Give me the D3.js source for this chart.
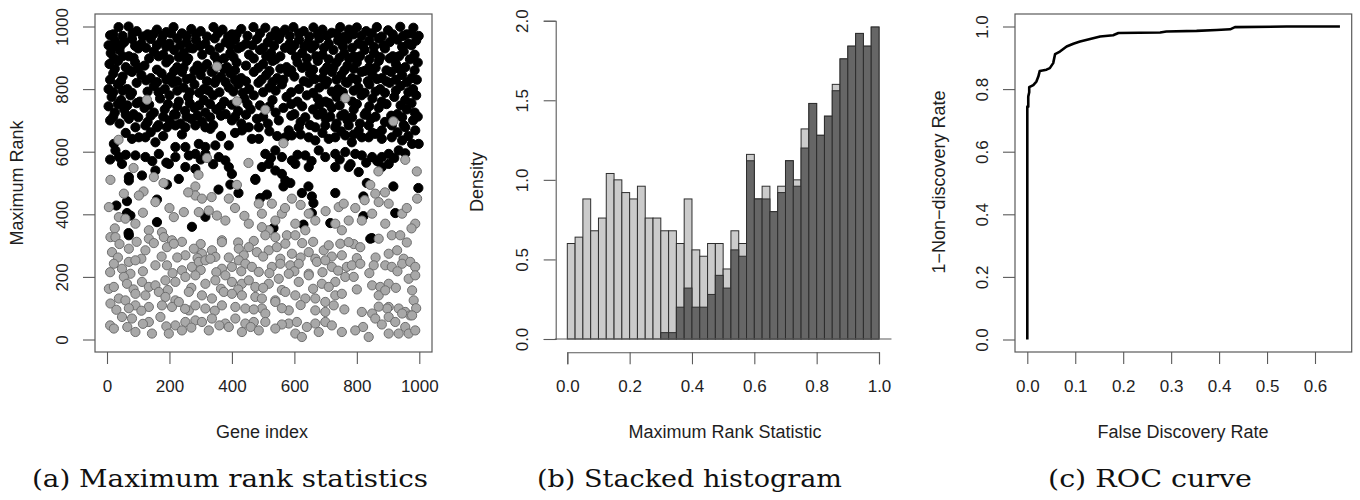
<!DOCTYPE html>
<html>
<head>
<meta charset="utf-8">
<script src="https://cdn.jsdelivr.net/npm/d3@7"></script>
<style>
  body { margin: 0; background: #fff; }
  svg { display: block; }
</style>
</head>
<body>
<script>
const WIDTH = 1360;
const HEIGHT = 500;
const SANS = "'Liberation Sans', Arial, sans-serif";
const SERIF = "'DejaVu Serif', serif";
const INK = "#1e1e1e";
const FRAME = "#5a5a5a";
const TICK = 12;

// ---- (a) maximum rank statistics ----
const geneTicks = [0, 200, 400, 600, 800, 1000];
const rankTicks = [0, 200, 400, 600, 800, 1000];

// [gene index, maximum rank] - differentially expressed genes (black)
const signalGenes = [
  [10,972],[37,998],[69,1000],[95,985],[130,975],[160,990],[190,982],[213,998],[240,978],[270,992],[300,985],[341,998],[370,990],[400,975],[430,992],[469,998],[507,996],[540,985],[570,990],[597,998],[630,985],[661,997],[690,990],[720,980],[747,998],[775,990],[800,997],[830,985],[864,998],[900,988],[939,999],[960,975],[981,996],
  [20,975],[50,970],[82,978],[115,968],[148,975],[178,970],[205,978],[255,970],[285,975],[320,968],[355,978],[388,968],[415,975],[450,970],[490,978],[525,968],[555,975],[585,970],[615,978],[648,968],[675,975],[705,970],[735,978],[760,968],[790,975],[815,970],[848,978],[880,968],[915,975],[948,970],[975,978],[998,970],
  [5,940],[25,955],[55,950],[80,960],[110,945],[140,960],[175,955],[200,945],[225,962],[255,950],[285,958],[315,945],[345,962],[380,950],[410,958],[445,945],[480,960],[515,950],[550,960],[585,945],[615,958],[645,950],[680,962],[710,945],[740,955],[770,960],[805,945],[840,955],[870,962],[905,950],[930,958],[965,945],[990,955],
  [18,935],[45,940],[90,938],[125,932],[160,940],[190,935],[235,940],[265,932],[298,938],[360,932],[395,940],[430,935],[465,940],[500,932],[535,938],[570,932],[600,940],[632,935],[665,940],[695,932],[755,938],[785,932],[820,940],[855,935],[885,940],[945,935],[975,940],
  [12,915],[40,925],[70,905],[100,930],[150,920],[180,910],[215,925],[245,915],[275,930],[305,910],[330,925],[395,915],[420,930],[455,910],[490,925],[525,915],[555,905],[590,925],[625,915],[655,930],[690,910],[725,925],[760,915],[790,905],[825,925],[855,915],[890,930],[915,905],[950,920],[985,910],
  [22,898],[50,905],[85,900],[135,898],[165,905],[200,895],[230,902],[260,898],[345,905],[375,898],[405,902],[470,898],[510,905],[540,895],[605,902],[640,898],[670,905],[710,895],[745,900],[775,898],[810,905],[840,895],[875,902],[905,898],[935,905],[970,895],
  [8,880],[35,890],[60,870],[90,885],[120,875],[190,885],[225,870],[255,890],[290,875],[320,880],[355,890],[385,870],[415,885],[445,875],[500,880],[530,890],[575,870],[610,885],[640,875],[675,890],[705,870],[735,885],[770,875],[800,885],[840,870],[870,890],[925,880],[955,870],[995,885],
  [25,865],[70,860],[100,868],[160,862],[215,858],[245,868],[280,860],[305,865],[340,858],[375,865],[410,860],[485,868],[520,858],[555,865],[590,860],[625,868],[660,862],[695,858],[725,868],[760,860],[790,865],[825,858],[860,868],[895,860],[935,865],[985,860],
  [20,850],[50,840],[80,855],[110,845],[140,835],[175,850],[205,840],[240,855],[270,835],[300,845],[335,855],[365,840],[395,850],[430,835],[470,855],[510,845],[545,835],[580,855],[600,840],[650,850],[690,835],[720,855],[750,845],[785,835],[815,855],[850,845],[880,835],[910,855],[945,845],[975,835],
  [10,830],[45,825],[125,828],[160,822],[190,830],[225,825],[255,832],[320,825],[350,830],[380,822],[410,830],[445,825],[495,830],[530,822],[565,830],[630,825],[665,832],[705,825],[735,830],[765,822],[800,830],[835,825],[865,832],[895,825],[925,830],[960,822],[992,830],
  [5,800],[35,815],[65,800],[95,820],[150,810],[185,800],[210,820],[245,805],[280,815],[310,800],[345,820],[390,805],[420,815],[455,800],[485,820],[520,805],[560,815],[615,800],[645,820],[680,805],[700,815],[740,800],[770,820],[805,805],[840,815],[875,800],[905,820],[940,810],[980,800],
  [20,790],[50,795],[80,788],[130,792],[165,790],[225,795],[265,790],[295,788],[325,795],[360,790],[405,792],[435,788],[500,790],[540,795],[590,790],[660,788],[720,792],[755,790],[790,795],[825,788],[860,792],[890,788],[925,795],[965,790],
  [15,775],[45,765],[75,780],[105,760],[170,770],[200,780],[230,760],[260,775],[310,765],[340,780],[375,760],[440,770],[470,780],[530,765],[575,775],[610,760],[640,780],[675,770],[700,760],[735,775],[785,760],[815,780],[850,770],[880,760],[920,775],[955,765],[990,780],
  [5,745],[35,752],[65,748],[95,755],[135,750],[195,752],[225,745],[265,755],[295,748],[330,752],[365,745],[400,750],[450,752],[490,748],[520,745],[590,752],[625,745],[680,750],[710,755],[745,748],[800,752],[840,745],[895,752],[940,748],[975,755],
  [25,725],[55,735],[85,720],[120,740],[150,725],[185,735],[215,720],[250,730],[280,740],[315,725],[350,735],[380,720],[420,730],[460,735],[540,725],[565,740],[600,720],[660,735],[690,725],[720,740],[760,720],[790,735],[830,725],[870,740],[930,720],[960,735],[985,725],
  [20,712],[60,718],[100,710],[140,715],[180,712],[220,718],[255,712],[290,715],[330,710],[365,715],[410,712],[445,718],[500,712],[590,715],[635,710],[675,718],[715,712],[750,715],[785,710],[825,718],[860,712],[910,715],[945,710],[995,712],
  [10,700],[40,690],[70,705],[130,695],[165,685],[200,700],[235,690],[270,705],[305,695],[340,685],[400,700],[430,690],[480,705],[515,690],[550,700],[620,695],[650,685],[700,705],[735,690],[770,700],[810,690],[845,705],[890,695],[950,685],[980,700],
  [91,678],[123,684],[160,678],[192,678],[219,684],[251,678],[283,684],[315,678],[331,673],[432,668],[454,678],[486,678],[582,668],[614,678],[667,678],[699,684],[731,678],[774,684],[806,668],[838,684],[880,668],[912,684],[955,678],[987,668],
  [60,660],[140,662],[180,650],[240,655],[365,650],[410,660],[520,665],[545,650],[620,655],[690,660],[750,665],[790,655],[850,660],[930,662],[965,650],
  [22,625],[80,641],[102,646],[123,646],[155,630],[219,615],[251,615],[294,625],[315,615],[347,620],[390,620],[464,641],[486,641],[571,646],[592,652],[646,646],[667,636],[710,641],[731,646],[763,652],[784,630],[816,646],[838,646],[859,657],[880,641],[912,646],[945,636],[977,625],[998,625],
  [27,604],[38,583],[91,588],[123,583],[166,593],[219,583],[262,588],[283,593],[315,593],[358,583],[379,572],[507,593],[539,604],[560,583],[592,572],[635,588],[678,604],[699,583],[731,593],[763,599],[795,593],[816,588],[849,583],[880,583],[902,593],[934,604],
  [10,575],[60,590],[145,570],[190,565],[300,575],[340,560],[525,580],[610,590],[655,570],[745,575],[780,560],[830,565],[865,570],[920,580],[955,595],
  [48,561],[70,519],[112,524],[155,540],[198,561],[251,551],[283,545],[390,551],[400,529],[496,551],[518,561],[539,540],[560,529],[603,561],[646,551],[731,551],[774,551],[806,535],[880,551],[902,561],
  [70,508],[230,513],[475,513],[571,508],
  [30,428],[64,442],[64,404],[75,396],[69,340],[160,375],[160,447],[192,495],[272,360],[315,392],[357,479],[395,495],[421,468],[475,510],[512,463],[491,452],[533,356],[565,489],[587,500],[624,468],[645,489],[656,457],[661,436],[656,404],[629,367],[715,372],[731,468],[821,457],[821,394],[848,324],[832,500],[917,489],[923,404],[997,484],
  [70,333],[843,322]
];

// [gene index, maximum rank] - null genes (grey)
const nullGenes = [
  [128,766],[352,872],[416,761],[507,734],[565,627],[763,771],[917,697],[37,638],[320,580],[453,564],[955,574],[992,537],[11,510],[85,548],[293,526],[869,537],[843,494],[416,494],[181,500],[283,489],[117,473],
  [150,519],[54,466],[102,460],[155,439],[6,423],[38,391],[59,386],[91,370],[134,349],[176,343],[214,391],[246,407],[283,460],[304,450],[294,407],[326,412],[352,396],[379,380],[390,450],[454,370],[486,434],[496,402],[528,434],[560,402],[539,380],[592,450],[603,370],[635,349],[646,402],[667,380],[742,423],[758,434],[774,380],[816,380],[859,466],[870,439],[849,402],[891,370],[902,434],[945,402],[993,450],[987,370],[731,370],[752,349],[518,349],[496,359],
  [25,355],[115,405],[200,420],[260,470],[335,455],[410,420],[440,395],[570,420],[620,430],[700,410],[795,420],[825,445],[890,470],[960,420],[975,355],
  [11,327],[27,327],[134,322],[182,327],[208,317],[368,317],[507,333],[539,327],[576,333],[603,333],[870,322],[912,333],[939,333],
  [40,305],[95,312],[150,308],[240,312],[300,305],[420,310],[470,315],[625,308],[660,312],[790,305],[960,310],
  [16,279],[70,290],[123,285],[192,295],[214,306],[251,269],[278,290],[304,274],[336,285],[347,264],[368,311],[422,290],[438,269],[454,295],[480,279],[518,285],[544,295],[571,306],[592,274],[646,279],[667,258],[694,285],[710,301],[747,306],[774,311],[811,295],[902,274],[929,285],
  [35,262],[110,258],[175,265],[225,262],[290,260],[390,262],[500,265],[555,258],[620,262],[720,265],[800,260],[860,262],[950,258],
  [22,242],[48,226],[70,248],[91,253],[155,237],[192,237],[240,221],[272,232],[294,248],[315,253],[331,258],[368,226],[400,232],[422,253],[443,242],[464,232],[486,216],[528,232],[555,242],[587,237],[614,242],[646,210],[672,248],[699,253],[720,232],[752,269],[768,232],[784,237],[811,242],[854,237],[891,237],[912,232],[945,242],[971,248],[987,232],
  [10,215],[75,210],[115,218],[210,212],[300,222],[350,215],[430,218],[520,212],[600,218],[690,215],[740,220],[840,212],[930,218],
  [6,162],[22,168],[54,200],[64,178],[112,184],[134,168],[155,173],[187,189],[219,184],[251,200],[283,205],[315,178],[347,189],[379,205],[400,184],[432,178],[454,189],[475,168],[518,178],[550,194],[582,210],[614,184],[646,205],[688,178],[731,184],[763,200],[790,200],[849,173],[875,168],[902,178],[966,194],[987,205],
  [85,160],[195,158],[270,165],[365,162],[420,160],[500,165],[560,158],[660,162],[710,168],[800,160],[925,165],
  [11,115],[38,131],[59,125],[91,146],[123,141],[166,152],[187,136],[219,125],[262,152],[304,141],[336,131],[374,152],[400,146],[432,141],[475,136],[496,131],[539,125],[571,152],[603,141],[635,131],[667,131],[699,120],[731,141],[752,146],[870,141],[891,157],[902,104],[977,157],[982,125],
  [91,109],[134,104],[176,109],[208,104],[230,120],[262,93],[283,109],[315,99],[368,109],[411,104],[443,99],[496,99],[507,83],[539,120],[582,93],[667,93],[699,88],[726,109],[816,88],[849,83],[897,99],[934,99],[955,88],[971,77],
  [30,95],[70,100],[110,92],[250,98],[345,92],[470,96],[560,100],[620,110],[760,96],[870,105],[990,100],
  [48,72],[80,67],[134,56],[171,72],[219,45],[251,56],[283,61],[304,56],[336,67],[379,51],[411,67],[443,51],[470,56],[507,56],[582,51],[608,56],[667,51],[699,56],[859,67],[902,72],[945,83],[977,77],[923,56],
  [10,45],[65,40],[115,50],[190,42],[270,38],[360,45],[460,40],[560,48],[640,40],[720,45],[820,40],[880,48],[955,40],
  [22,35],[91,24],[144,19],[198,19],[240,29],[326,29],[390,40],[432,24],[486,29],[539,35],[603,19],[624,8],[678,24],[752,24],[795,29],[838,8],[902,19],[934,19],[966,19],[987,29]
];

// ---- (b) stacked histogram ----
const statTicks = [0, 0.2, 0.4, 0.6, 0.8, 1.0];
const densityTicks = [0, 0.5, 1.0, 1.5, 2.0];
const BIN_WIDTH = 0.025;
const totalDensity = [
  0.60, 0.64, 0.88, 0.68, 0.76, 1.04, 1.00, 0.92, 0.88, 0.96,
  0.76, 0.76, 0.68, 0.68, 0.60, 0.88, 0.56, 0.52, 0.60, 0.60,
  0.44, 0.68, 0.60, 1.16, 0.88, 0.96, 0.80, 0.96, 1.12, 1.00,
  1.32, 1.48, 1.28, 1.40, 1.60, 1.76, 1.84, 1.92, 1.84, 1.96
];
const signalDensity = [
  0, 0, 0, 0, 0, 0, 0, 0, 0, 0,
  0, 0, 0.04, 0.04, 0.20, 0.32, 0.20, 0.20, 0.28, 0.40,
  0.32, 0.56, 0.52, 1.12, 0.88, 0.88, 0.80, 0.92, 1.12, 0.96,
  1.20, 1.48, 1.28, 1.40, 1.56, 1.76, 1.84, 1.92, 1.84, 1.96
];

// ---- (c) ROC curve ----
const fdrTicks = [0, 0.1, 0.2, 0.3, 0.4, 0.5, 0.6];
const tprTicks = [0, 0.2, 0.4, 0.6, 0.8, 1.0];
const rocFdr = [0, 0, 0.002, 0.002, 0.004, 0.004, 0.0125, 0.019, 0.023, 0.026, 0.04, 0.047, 0.054, 0.058, 0.068, 0.082, 0.096, 0.11, 0.131, 0.152, 0.179, 0.19, 0.277, 0.29, 0.353, 0.395, 0.423, 0.433, 0.541, 0.652];
const rocTpr = [0, 0.744, 0.744, 0.776, 0.79, 0.806, 0.813, 0.824, 0.84, 0.858, 0.862, 0.867, 0.883, 0.912, 0.92, 0.936, 0.945, 0.952, 0.96, 0.968, 0.972, 0.979, 0.981, 0.984, 0.986, 0.989, 0.991, 0.998, 1.0, 1.0];

const svg = d3.select("body").append("svg")
  .attr("width", WIDTH)
  .attr("height", HEIGHT);

svg.append("rect").attr("width", WIDTH).attr("height", HEIGHT).attr("fill", "#fff");

drawScatter();
drawHistogram();
drawRoc();

function styleAxis(g) {
  g.select(".domain").attr("stroke", FRAME).attr("stroke-width", 1.1);
  g.selectAll(".tick line").attr("stroke", FRAME).attr("stroke-width", 1.1);
  g.selectAll(".tick text")
    .attr("fill", INK)
    .style("font-family", SANS)
    .style("font-size", "17px");
}

function bottomAxis(scale, ticks, y, fmt) {
  const g = svg.append("g")
    .attr("transform", "translate(0," + y + ")")
    .call(d3.axisBottom(scale).tickValues(ticks).tickFormat(fmt).tickSizeOuter(0).tickSize(TICK));
  styleAxis(g);
  g.selectAll(".tick text").attr("y", 34.5).attr("dy", 0).attr("dominant-baseline", "central");
  return g;
}

function leftAxis(scale, ticks, x, fmt) {
  const g = svg.append("g")
    .attr("transform", "translate(" + x + ",0)")
    .call(d3.axisLeft(scale).tickValues(ticks).tickFormat(fmt).tickSizeOuter(0).tickSize(TICK));
  styleAxis(g);
  g.selectAll(".tick text")
    .attr("transform", "rotate(-90)")
    .attr("x", 0)
    .attr("y", -33)
    .attr("dy", 0)
    .attr("text-anchor", "middle")
    .attr("dominant-baseline", "central");
  return g;
}

function frame(x0, y0, x1, y1) {
  svg.append("rect")
    .attr("x", x0).attr("y", y0)
    .attr("width", x1 - x0).attr("height", y1 - y0)
    .attr("fill", "none")
    .attr("stroke", FRAME)
    .attr("stroke-width", 1.2);
}

function axisTitle(text, x, y, rotate) {
  svg.append("text")
    .attr("transform", "translate(" + x + "," + y + ")" + (rotate ? " rotate(-90)" : ""))
    .attr("text-anchor", "middle")
    .attr("dominant-baseline", "central")
    .attr("fill", INK)
    .style("font-family", SANS)
    .style("font-size", "18px")
    .text(text);
}

function caption(text, x0, x1) {
  svg.append("text")
    .attr("x", x0)
    .attr("y", 487)
    .attr("textLength", x1 - x0)
    .attr("lengthAdjust", "spacingAndGlyphs")
    .attr("fill", "#111")
    .style("font-family", SERIF)
    .style("font-size", "25px")
    .text(text);
}

function drawScatter() {
  const box = { left: 95, right: 432, top: 14, bottom: 352 };
  const x = d3.scaleLinear().domain([0, 1000]).range([107, 419.3]);
  const y = d3.scaleLinear().domain([0, 1000]).range([339.5, 26.5]);

  // black genes first, grey on top so the odd null in the upper band stays visible
  const points = signalGenes.map(d => ({ gene: d[0], rank: d[1], signal: true }))
    .concat(nullGenes.map(d => ({ gene: d[0], rank: d[1], signal: false })));

  svg.append("g")
    .selectAll("circle")
    .data(points)
    .join("circle")
    .attr("cx", d => x(d.gene))
    .attr("cy", d => y(d.rank))
    .attr("r", 4.6)
    .attr("fill", d => (d.signal ? "#000" : "#a8a8a8"))
    .attr("stroke", d => (d.signal ? "#000" : "#6e6e6e"))
    .attr("stroke-width", 1);

  frame(box.left, box.top, box.right, box.bottom);
  bottomAxis(x, geneTicks, box.bottom, d3.format("d")).select(".domain").remove();
  leftAxis(y, rankTicks, box.left, d3.format("d")).select(".domain").remove();

  axisTitle("Gene index", 262, 432, false);
  axisTitle("Maximum Rank", 17, 183, true);
  caption("(a) Maximum rank statistics", 32, 428);
}

function drawHistogram() {
  const x = d3.scaleLinear().domain([0, 1]).range([567.3, 879]);
  const y = d3.scaleLinear().domain([0, 2]).range([339, 20.7]);
  const bins = totalDensity.map((t, i) => ({ x0: i * BIN_WIDTH, x1: (i + 1) * BIN_WIDTH, total: t, signal: signalDensity[i] }));

  const g = svg.append("g");
  g.selectAll("rect.total")
    .data(bins)
    .join("rect")
    .attr("class", "total")
    .attr("x", d => x(d.x0))
    .attr("width", d => x(d.x1) - x(d.x0))
    .attr("y", d => y(d.total))
    .attr("height", d => y(0) - y(d.total))
    .attr("fill", "#cbcbcb")
    .attr("stroke", "#2e2e2e")
    .attr("stroke-width", 1);

  g.selectAll("rect.signal")
    .data(bins.filter(d => d.signal > 0))
    .join("rect")
    .attr("class", "signal")
    .attr("x", d => x(d.x0))
    .attr("width", d => x(d.x1) - x(d.x0))
    .attr("y", d => y(d.signal))
    .attr("height", d => y(0) - y(d.signal))
    .attr("fill", "#666666")
    .attr("stroke", "#2e2e2e")
    .attr("stroke-width", 1);

  // zero line across the plotting region
  svg.append("line")
    .attr("x1", x(-0.04)).attr("x2", x(1.04))
    .attr("y1", y(0)).attr("y2", y(0))
    .attr("stroke", FRAME)
    .attr("stroke-width", 1.1);

  bottomAxis(x, statTicks, 352.3, d3.format(".1f"));
  leftAxis(y, densityTicks, 555.7, d3.format(".1f"));

  axisTitle("Maximum Rank Statistic", 725, 432, false);
  axisTitle("Density", 477, 182, true);
  caption("(b) Stacked histogram", 537, 842);
}

function drawRoc() {
  const box = { left: 1015, right: 1351.7, top: 14, bottom: 352 };
  const x = d3.scaleLinear().domain([0, 0.6]).range([1027.3, 1315]);
  const y = d3.scaleLinear().domain([0, 1]).range([339.5, 26.5]);
  const pts = rocFdr.map((f, i) => [f, rocTpr[i]]);

  svg.append("path")
    .datum(pts)
    .attr("fill", "none")
    .attr("stroke", "#000")
    .attr("stroke-width", 2.6)
    .attr("stroke-linejoin", "round")
    .attr("d", d3.line().x(d => x(d[0])).y(d => y(d[1])));

  frame(box.left, box.top, box.right, box.bottom);
  bottomAxis(x, fdrTicks, box.bottom, d3.format(".1f")).select(".domain").remove();
  leftAxis(y, tprTicks, box.left, d3.format(".1f")).select(".domain").remove();

  axisTitle("False Discovery Rate", 1183, 432, false);
  axisTitle("1\u2212Non\u2212discovery Rate", 939, 182, true);
  caption("(c) ROC curve", 1048, 1252);
}
</script>
</body>
</html>
